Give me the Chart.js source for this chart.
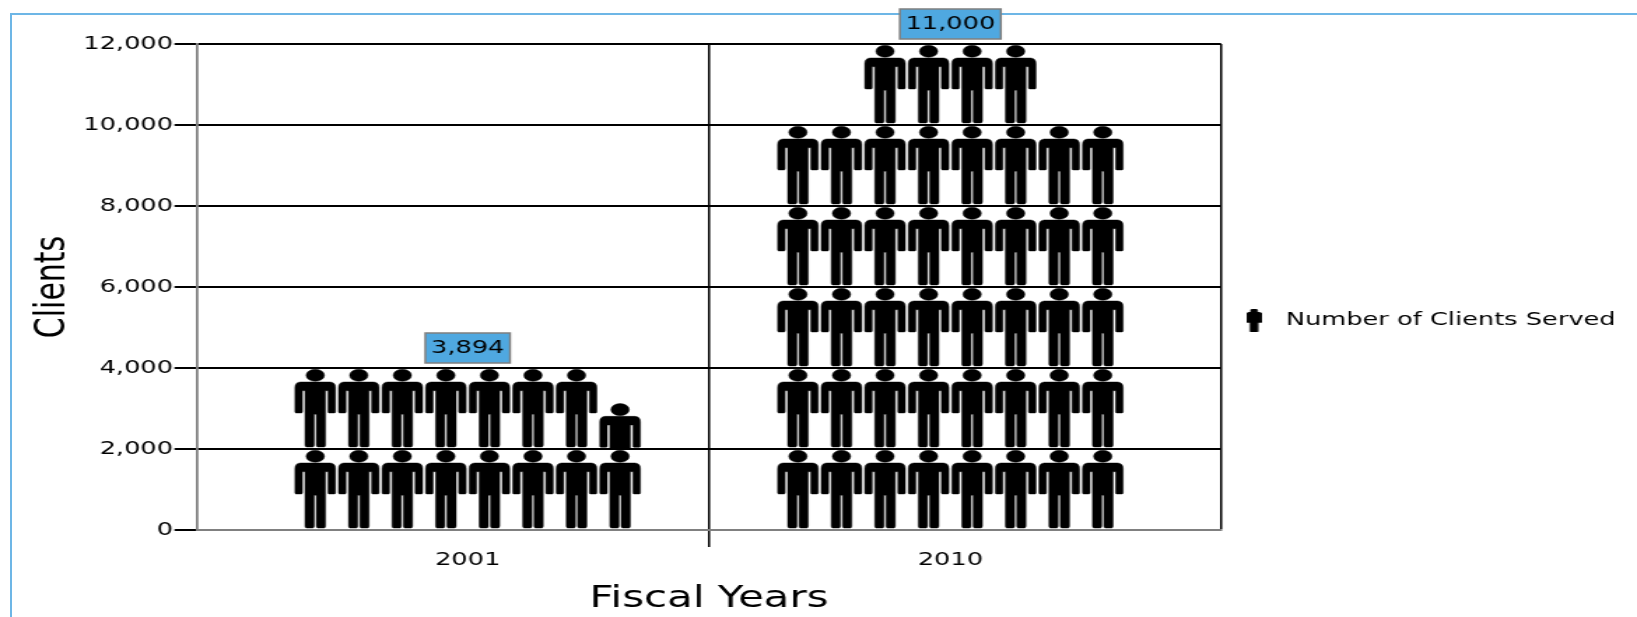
<!DOCTYPE html>
<html>
<head>
<meta charset="utf-8">
<script src="https://cdn.jsdelivr.net/npm/chart.js@4"></script>
<style>
html,body{margin:0;padding:0;background:#fff;overflow:hidden;width:1637px;height:617px}
#frame{position:absolute;left:10px;top:13px;width:1640px;height:700px;border-top:2px solid #6db6e6;border-left:2px solid #6db6e6}
#wrap{position:absolute;left:0;top:0;width:1170px;height:617px;transform-origin:0 0;transform:scaleX(1.39915)}
canvas{display:block}
</style>
</head>
<body>
<div id="frame"></div>
<div id="wrap"><canvas id="c" width="1170" height="617" style="width:1170px;height:617px"></canvas></div>
<script>
const categories = ['2001', '2010'];
const clientsServed = [3894, 11000];
const seriesName = 'Number of Clients Served';
const yTickStep = 2000;
const yMax = 12000;
const clientsPerIcon = 250;
const iconsPerRow = 8;
const xMin = -0.561, xMax = 1.561;
const FONT = '"DejaVu Sans", Verdana, sans-serif';
const LABEL_SIZE = 18.35;

function personPath(ctx) {
  ctx.beginPath();
  ctx.ellipse(0, 0.09, 0.21, 0.075, 0, 0, Math.PI * 2);
  ctx.closePath();
  ctx.moveTo(-0.34, 0.173);
  ctx.lineTo(0.34, 0.173);
  ctx.quadraticCurveTo(0.465, 0.176, 0.465, 0.24);
  ctx.lineTo(0.465, 0.54);
  ctx.quadraticCurveTo(0.465, 0.555, 0.44, 0.555);
  ctx.lineTo(0.32, 0.555);
  ctx.quadraticCurveTo(0.295, 0.555, 0.295, 0.54);
  ctx.lineTo(0.295, 0.28);
  ctx.lineTo(0.235, 0.28);
  ctx.lineTo(0.235, 0.95);
  ctx.quadraticCurveTo(0.235, 0.975, 0.2, 0.975);
  ctx.lineTo(0.06, 0.975);
  ctx.quadraticCurveTo(0.025, 0.975, 0.025, 0.95);
  ctx.lineTo(0.025, 0.57);
  ctx.lineTo(-0.025, 0.57);
  ctx.lineTo(-0.025, 0.95);
  ctx.quadraticCurveTo(-0.025, 0.975, -0.06, 0.975);
  ctx.lineTo(-0.2, 0.975);
  ctx.quadraticCurveTo(-0.235, 0.975, -0.235, 0.95);
  ctx.lineTo(-0.235, 0.28);
  ctx.lineTo(-0.295, 0.28);
  ctx.lineTo(-0.295, 0.54);
  ctx.quadraticCurveTo(-0.295, 0.555, -0.32, 0.555);
  ctx.lineTo(-0.44, 0.555);
  ctx.quadraticCurveTo(-0.465, 0.555, -0.465, 0.54);
  ctx.lineTo(-0.465, 0.24);
  ctx.quadraticCurveTo(-0.465, 0.176, -0.34, 0.173);
  ctx.closePath();
}

function drawPerson(ctx, cx, top, w, h, frac) {
  ctx.save();
  ctx.beginPath();
  ctx.rect(cx - w, top, w * 2, h * frac);
  ctx.clip();
  ctx.translate(cx, top);
  ctx.scale(w, h);
  personPath(ctx);
  ctx.fillStyle = '#000';
  ctx.fill();
  ctx.scale(1 / w, 1 / h);
  ctx.lineWidth = 1;
  ctx.strokeStyle = 'rgba(0,0,0,0.45)';
  ctx.stroke();
  ctx.restore();
}

const legendIcon = document.createElement('canvas');
legendIcon.width = 11;
legendIcon.height = 23;
(function () {
  const g = legendIcon.getContext('2d');
  g.translate(5.5, 0);
  g.scale(11, 23);
  personPath(g);
  g.fillStyle = '#000';
  g.fill();
  g.lineWidth = 0.09;
  g.strokeStyle = '#000';
  g.stroke();
})();

const pictogramPlugin = {
  id: 'pictogram',
  afterLayout(chart) {
    chart.legend.top -= 10;
    chart.legend.bottom -= 10;
  },
  afterDatasetsDraw(chart) {
    const ctx = chart.ctx;
    const y = chart.scales.y;
    const clientsPerRow = clientsPerIcon * iconsPerRow;
    chart.getDatasetMeta(0).data.forEach((bar, i) => {
      const value = clientsServed[i];
      const slot = bar.width / iconsPerRow;
      const left = bar.x - bar.width / 2;
      const rows = Math.ceil(value / clientsPerRow);
      for (let r = 0; r < rows; r++) {
        const rowBottom = y.getPixelForValue(r * clientsPerRow);
        const rowTop = y.getPixelForValue((r + 1) * clientsPerRow);
        const h = rowBottom - rowTop;
        const rowValue = Math.min(value - r * clientsPerRow, clientsPerRow);
        const icons = rowValue / clientsPerIcon;
        const n = Math.ceil(icons);
        const start = (iconsPerRow - n) / 2;
        for (let k = 0; k < n; k++) {
          const frac = Math.min(icons - k, 1);
          const cx = left + (start + k + 0.5) * slot;
          drawPerson(ctx, cx, rowBottom - h * frac, slot, h, frac);
        }
      }
      const stackTop = y.getPixelForValue(rows * clientsPerRow);
      const text = value.toLocaleString('en-US');
      ctx.save();
      ctx.font = LABEL_SIZE + 'px ' + FONT;
      const tw = ctx.measureText(text).width;
      const bw = tw + 8, bh = 30;
      const bx = bar.x - bw / 2, by = stackTop - 5 - bh;
      ctx.fillStyle = '#4fa8e0';
      ctx.fillRect(bx, by, bw, bh);
      ctx.strokeStyle = '#7f7f7f';
      ctx.lineWidth = 1.5;
      ctx.strokeRect(bx, by, bw, bh);
      ctx.fillStyle = '#000';
      ctx.textAlign = 'center';
      ctx.textBaseline = 'middle';
      ctx.fillText(text, bar.x, by + bh / 2 + 0.5);
      ctx.restore();
    });
  }
};

const tickValue = c => (c.tick ? c.tick.value : null);

new Chart(document.getElementById('c'), {
  type: 'bar',
  data: {
    datasets: [{
      label: seriesName,
      data: categories.map((c, i) => ({ x: i, y: clientsServed[i] })),
      backgroundColor: 'rgba(0,0,0,0)',
      borderWidth: 0,
      barThickness: 249
    }]
  },
  plugins: [pictogramPlugin],
  options: {
    responsive: false,
    devicePixelRatio: 1,
    animation: false,
    layout: { padding: { left: 0, top: 44, right: 6.3, bottom: 0 } },
    plugins: {
      tooltip: { enabled: false },
      legend: {
        position: 'right',
        onClick: null,
        labels: {
          usePointStyle: true,
          pointStyle: legendIcon,
          pointStyleWidth: 27,
          padding: 10,
          color: '#000',
          font: { family: FONT, size: LABEL_SIZE }
        }
      }
    },
    scales: {
      x: {
        type: 'linear',
        min: xMin,
        max: xMax,
        offset: false,
        afterBuildTicks(s) {
          s.ticks = [{ value: xMin }, { value: 0 }, { value: 0.5 }, { value: 1 }, { value: xMax }];
        },
        afterFit(s) { s.height = 87; },
        grid: {
          offset: false,
          drawTicks: true,
          tickLength: 17,
          lineWidth: 1.5,
          color: c => {
            const v = tickValue(c);
            return (v === 0 || v === 1) ? 'rgba(0,0,0,0)' : (v === xMin ? '#808080' : '#000');
          },
          tickColor: c => tickValue(c) === 0.5 ? '#000' : 'rgba(0,0,0,0)'
        },
        border: { color: '#808080', width: 2 },
        ticks: {
          autoSkip: false,
          maxRotation: 0,
          minRotation: 0,
          padding: 2,
          color: '#000',
          font: { family: FONT, size: LABEL_SIZE },
          callback: v => (v === 0 || v === 1) ? categories[v] : ''
        },
        title: {
          display: true,
          text: 'Fiscal Years',
          color: '#000',
          padding: { top: 3, bottom: 0 },
          font: { family: FONT, size: 30 }
        }
      },
      y: {
        min: 0,
        max: yMax,
        afterFit(s) { s.width = 140.7; },
        grid: {
          tickLength: 16,
          lineWidth: 2,
          color: c => tickValue(c) === 0 ? '#808080' : '#000',
          tickColor: '#000'
        },
        border: { color: '#808080', width: 1.5 },
        ticks: {
          stepSize: yTickStep,
          padding: 1,
          color: '#000',
          font: { family: FONT, size: LABEL_SIZE },
          callback: v => v.toLocaleString('en-US')
        },
        title: {
          display: true,
          text: 'Clients',
          color: '#000',
          padding: { top: 20, bottom: 0 },
          font: { family: FONT, size: 30 }
        }
      }
    }
  }
});
</script>
</body>
</html>
